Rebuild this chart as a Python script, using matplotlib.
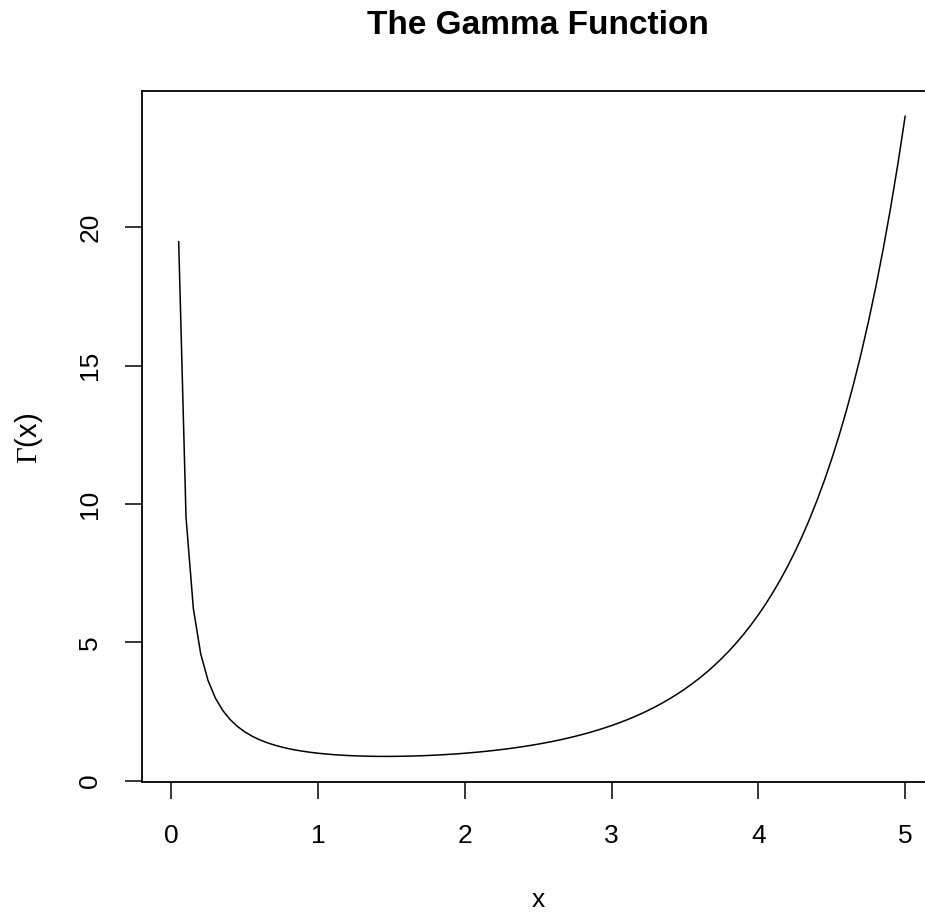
import matplotlib
matplotlib.use("Agg")
import matplotlib.pyplot as plt

plt.rcParams['font.family'] = ['Liberation Sans', 'DejaVu Sans']
plt.rcParams['mathtext.fontset'] = 'custom'
plt.rcParams['mathtext.rm'] = 'Liberation Serif'

# x = 0, 0.05, ..., 5 (gamma(0) is undefined, so the curve starts at 0.05)
x_vals = [0.05, 0.10, 0.15, 0.20, 0.25, 0.30, 0.35, 0.40, 0.45, 0.50,
          0.55, 0.60, 0.65, 0.70, 0.75, 0.80, 0.85, 0.90, 0.95, 1.00,
          1.05, 1.10, 1.15, 1.20, 1.25, 1.30, 1.35, 1.40, 1.45, 1.50,
          1.55, 1.60, 1.65, 1.70, 1.75, 1.80, 1.85, 1.90, 1.95, 2.00,
          2.05, 2.10, 2.15, 2.20, 2.25, 2.30, 2.35, 2.40, 2.45, 2.50,
          2.55, 2.60, 2.65, 2.70, 2.75, 2.80, 2.85, 2.90, 2.95, 3.00,
          3.05, 3.10, 3.15, 3.20, 3.25, 3.30, 3.35, 3.40, 3.45, 3.50,
          3.55, 3.60, 3.65, 3.70, 3.75, 3.80, 3.85, 3.90, 3.95, 4.00,
          4.05, 4.10, 4.15, 4.20, 4.25, 4.30, 4.35, 4.40, 4.45, 4.50,
          4.55, 4.60, 4.65, 4.70, 4.75, 4.80, 4.85, 4.90, 4.95, 5.00]
gamma_vals = [19.470, 9.5135, 6.2203, 4.5908, 3.6256, 2.9916, 2.5461, 2.2182, 1.9681, 1.7725,
              1.6161, 1.4892, 1.3848, 1.2981, 1.2254, 1.1642, 1.1125, 1.0686, 1.0315, 1.0000,
              0.9735, 0.9514, 0.9330, 0.9182, 0.9064, 0.8975, 0.8912, 0.8873, 0.8857, 0.8862,
              0.8889, 0.8935, 0.9001, 0.9086, 0.9191, 0.9314, 0.9456, 0.9618, 0.9799, 1.0000,
              1.0222, 1.0465, 1.0730, 1.1018, 1.1330, 1.1667, 1.2031, 1.2422, 1.2843, 1.3293,
              1.3778, 1.4296, 1.4852, 1.5446, 1.6084, 1.6765, 1.7494, 1.8274, 1.9108, 2.0000,
              2.0955, 2.1976, 2.3070, 2.4240, 2.5493, 2.6834, 2.8273, 2.9813, 3.1465, 3.3234,
              3.5134, 3.7170, 3.9358, 4.1704, 4.4231, 4.6942, 4.9858, 5.2995, 5.6369, 6.0000,
              6.3913, 6.8126, 7.2671, 7.7568, 8.2852, 8.8552, 9.4715, 10.1364, 10.8554, 11.6317,
              12.4726, 13.3812, 14.3657, 15.4305, 16.5866, 17.8380, 19.1953, 20.6681, 22.2658, 24.0000]
x_ticks = [0, 1, 2, 3, 4, 5]
y_ticks = [0, 5, 10, 15, 20]

W, H = 925, 915
fig = plt.figure(figsize=(W / 100, H / 100), dpi=100)
ax = fig.add_axes([142 / W, 1 - 782 / H, (934.5 - 142) / W, (782 - 90.7) / H])

ax.plot(x_vals, gamma_vals, color='black', lw=1.1)

# R style 4% padding, x range taken from curve(from=0, to=5)
xr = 5 - 0
ax.set_xlim(0 - 0.04 * xr, 5 + 0.04 * xr)
yr = max(gamma_vals) - min(gamma_vals)
ax.set_ylim(min(gamma_vals) - 0.04 * yr, max(gamma_vals) + 0.04 * yr)

ax.set_xticks(x_ticks)
ax.set_yticks(y_ticks)
ax.set_yticklabels([str(t) for t in y_ticks], rotation=90, va='center')
ax.tick_params(direction='out', length=12.5, width=1.1, labelsize=19, color='black')
ax.tick_params(axis='x', pad=18)
ax.tick_params(axis='y', pad=16)
for s in ax.spines.values():
    s.set_linewidth(1.3)
ax.spines['right'].set_visible(False)

fig.text(0.5 * (142 + 934.5) / W, 1 - 34 / H, 'The Gamma Function',
         ha='center', va='baseline', fontsize=24, fontweight='bold')
fig.text(0.5 * (142 + 934.5) / W, 1 - 900 / H, 'x', ha='center', va='center', fontsize=19)
fig.text(29 / W, 1 - 438 / H, r'$\Gamma$(x)', ha='center', va='center',
         fontsize=21, rotation=90)

fig.savefig('out.png', dpi=100)
